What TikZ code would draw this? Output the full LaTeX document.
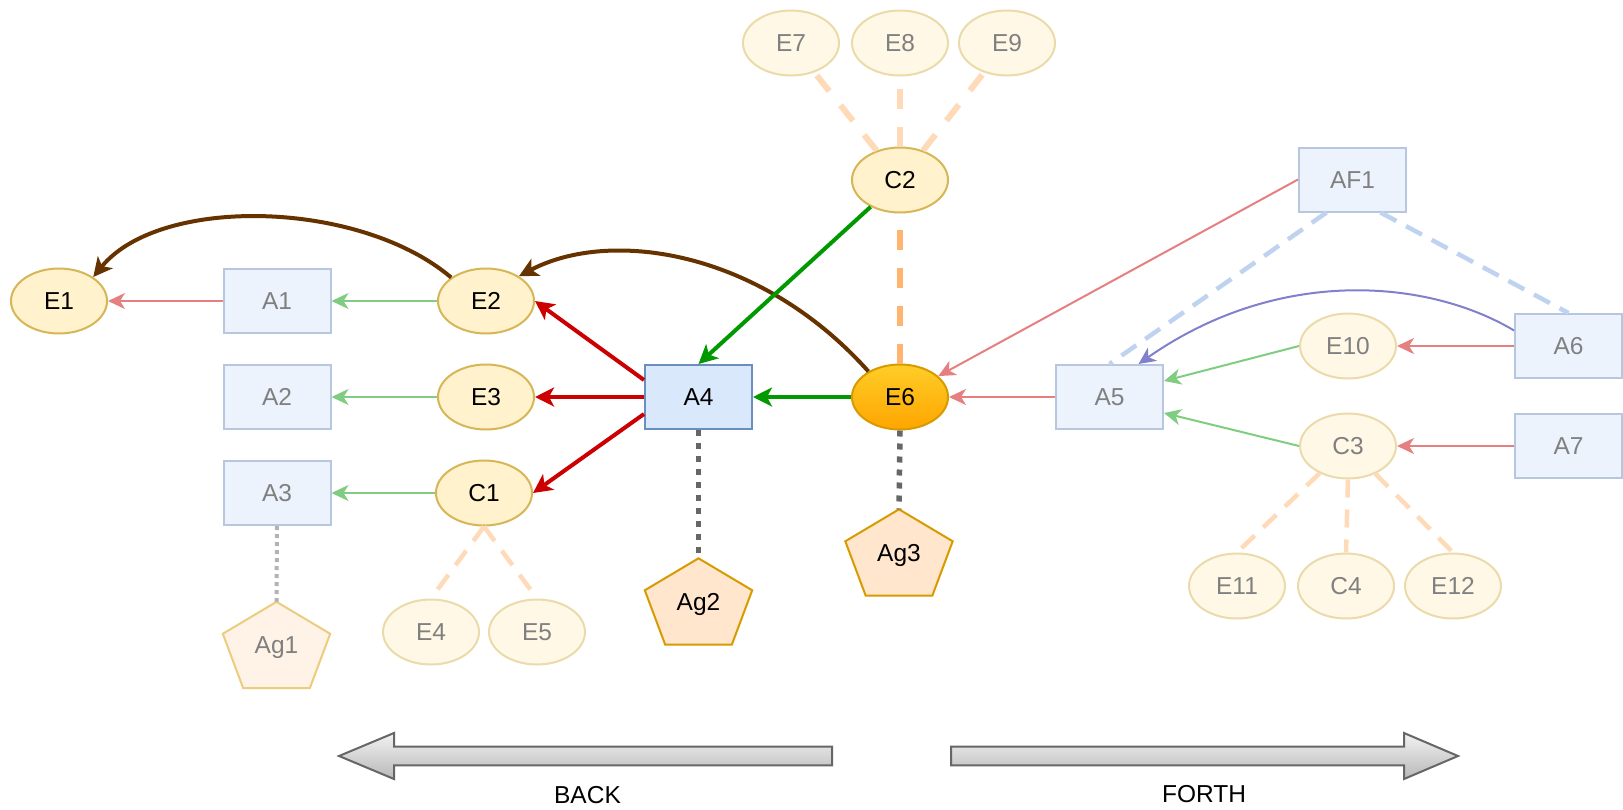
\documentclass[tikz,border=0pt]{standalone}
\usepackage{fontspec}
\setmainfont{Liberation Sans}
\usetikzlibrary{arrows.meta,calc,shapes.geometric}
\definecolor{ellF}{HTML}{FFF2CC}
\definecolor{ellS}{HTML}{D6B656}
\definecolor{ellFf}{HTML}{FFF8E6}
\definecolor{ellSf}{HTML}{EBDBAB}
\definecolor{boxF}{HTML}{DAE8FC}
\definecolor{boxS}{HTML}{6C8EBF}
\definecolor{boxFf}{HTML}{EDF3FD}
\definecolor{boxSf}{HTML}{B6C7DF}
\definecolor{txtf}{HTML}{808080}
\definecolor{agF}{HTML}{FFE6CC}
\definecolor{agS}{HTML}{D79B00}
\definecolor{agFf}{HTML}{FFF2E6}
\definecolor{agSf}{HTML}{EBCD80}
\definecolor{eT}{HTML}{FFCD28}
\definecolor{eB}{HTML}{FFA500}
\definecolor{redT}{HTML}{CC0000}
\definecolor{grnT}{HTML}{009900}
\definecolor{brn}{HTML}{663300}
\definecolor{redf}{HTML}{E68080}
\definecolor{grnf}{HTML}{80CC80}
\definecolor{bluf}{HTML}{8080CC}
\definecolor{orgD}{HTML}{FFB570}
\definecolor{orgDf}{HTML}{FFDAB8}
\definecolor{bluD}{HTML}{BFD3F0}
\definecolor{dotD}{HTML}{666666}
\definecolor{dotL}{HTML}{B3B3B3}
\definecolor{grT}{HTML}{F2F2F2}
\definecolor{grB}{HTML}{B8B8B8}
\newcommand\agentpent[4]{%
  \draw[#2] (#1.north) -- ($(#1.north east)!0.37!(#1.south east)$) -- ($(#1.south west)!0.81!(#1.south east)$) -- ($(#1.south west)!0.19!(#1.south east)$) -- ($(#1.north west)!0.37!(#1.south west)$) -- cycle;
  \node[#3] (#1-label) at (#1) {#4};}
\begin{document}
\begin{tikzpicture}[x=1pt,y=-1pt,
  every node/.style={font=\fontsize{24.5pt}{29pt}\selectfont, inner sep=0pt, text height=17.5pt, text depth=0pt},
  ell/.style={ellipse, draw=ellS, fill=ellF, line width=2pt, minimum width=96pt, minimum height=65pt},
  ellf/.style={ellipse, draw=ellSf, fill=ellFf, text=txtf, line width=2pt, minimum width=96pt, minimum height=65pt},
  hot/.style={ellipse, draw=agS, top color=eT, bottom color=eB, line width=2pt, minimum width=96pt, minimum height=65pt},
  box/.style={rectangle, draw=boxS, fill=boxF, line width=2pt, minimum width=107pt, minimum height=64pt},
  boxf/.style={rectangle, draw=boxSf, fill=boxFf, text=txtf, line width=2pt, minimum width=107pt, minimum height=64pt},
  pentbox/.style={rectangle, minimum width=107pt, minimum height=86pt},
  agfull/.style={draw=agS, fill=agF, line width=2pt, line join=miter},
  agfaded/.style={draw=agSf, fill=agFf, line width=2pt, line join=miter},
  tipthin/.style={-{Stealth[length=17pt,width=16pt,inset=5pt]}},
  tipthick/.style={-{Stealth[length=19pt,width=19pt,inset=5pt]}},
  thinred/.style={draw=redf, line width=2pt, tipthin},
  thingreen/.style={draw=grnf, line width=2pt, tipthin},
  thinblue/.style={draw=bluf, line width=2pt, tipthin},
  thickred/.style={draw=redT, line width=4pt, tipthick},
  thickgreen/.style={draw=grnT, line width=4pt, tipthick},
  brownline/.style={draw=brn, line width=4pt, tipthick},
  orangedash/.style={draw=orgD, line width=6pt, dash pattern=on 20pt off 18pt},
  orangedashf/.style={draw=orgDf, line width=6pt, dash pattern=on 20pt off 18pt},
  orangedashs/.style={draw=orgDf, line width=4.5pt, dash pattern=on 18pt off 12pt},
  bluedash/.style={draw=bluD, line width=4.5pt, dash pattern=on 18pt off 11pt},
  dotdark/.style={draw=dotD, line width=5.5pt, dash pattern=on 6pt off 7pt},
  dotlight/.style={draw=dotL, line width=4pt, dash pattern=on 4pt off 4pt},
  blockarrow/.style={draw=dotD, line width=2pt, top color=grT, bottom color=grB, line join=miter},
  ]
\fill[white] (0,0) rectangle (1623,809);
\useasboundingbox (0,0) rectangle (1623,809);

% nodes
\node[ell] (E1) at (59,301) {E1};
\node[boxf] (A1) at (277,301) {A1};
\node[ell] (E2) at (486,301) {E2};
\node[boxf] (A2) at (277,397) {A2};
\node[ell] (E3) at (486,397) {E3};
\node[boxf] (A3) at (277,493) {A3};
\node[ell] (C1) at (484,493) {C1};
\node[ellf] (E4) at (431,632) {E4};
\node[ellf] (E5) at (537,632) {E5};
\node[box] (A4) at (698.5,397) {A4};
\node[hot] (E6) at (900,397) {E6};
\node[ell] (C2) at (900,180) {C2};
\node[ellf] (E7) at (791,43) {E7};
\node[ellf] (E8) at (900,43) {E8};
\node[ellf] (E9) at (1007,43) {E9};
\node[boxf] (A5) at (1109.5,397) {A5};
\node[boxf] (AF1) at (1352.5,179.5) {AF1};
\node[boxf] (A6) at (1568.5,346) {A6};
\node[boxf] (A7) at (1568.5,446) {A7};
\node[ellf] (E10) at (1348,346) {E10};
\node[ellf] (C3) at (1348,446) {C3};
\node[ellf] (E11) at (1237,586) {E11};
\node[ellf] (C4) at (1346,586) {C4};
\node[ellf] (E12) at (1453,586) {E12};
\node[pentbox] (Ag1) at (276.5,645) {};
\node[pentbox] (Ag2) at (698.5,601.5) {};
\node[pentbox] (Ag3) at (899,552.5) {};
\agentpent{Ag1}{agfaded}{text=txtf}{Ag1}
\agentpent{Ag2}{agfull}{}{Ag2}
\agentpent{Ag3}{agfull}{}{Ag3}

% left side
\draw[thinred] (A1.west) -- (E1.east);
\draw[thingreen] (E2.west) -- (A1.east);
\draw[thingreen] (E3.west) -- (A2.east);
\draw[thingreen] (C1.west) -- (A3.east);
\draw[brownline] (E2.146) .. controls (360,200) and (160,195) .. (E1.35);
\draw[brownline] (E6.141) .. controls (760,250) and (610,228) .. (E2.37);
\draw[thickred] ([yshift=17pt]A4.west) -- (E2.east);
\draw[thickred] (A4.west) -- (E3.east);
\draw[thickred] ([yshift=-17pt]A4.west) -- (C1.east);
\draw[thickgreen] (E6.west) -- (A4.east);
\draw[thickgreen] (C2) -- (A4.north);
\draw[orangedash] (E6.north) -- (C2.south);
\draw[orangedashf] (C2) -- (E7);
\draw[orangedashf] (C2.north) -- (E8.south);
\draw[orangedashf] (C2) -- (E9);
\draw[orangedashs] (C1.south) -- (E4.north);
\draw[orangedashs] (C1.south) -- (E5.north);
\draw[dotlight] (A3.south) -- (Ag1.north);
\draw[dotdark] (A4.south) -- (Ag2.north);
\draw[dotdark] (E6.south) -- (Ag3.north);

% right side
\draw[thinred] (A5.west) -- (E6.east);
\draw[thinred] (AF1.west) -- (E6);
\draw[bluedash] ([xshift=-26pt]AF1.south) -- (A5.north);
\draw[bluedash] ([xshift=28pt]AF1.south) -- (A6.north);
\draw[thinblue] ([yshift=15.5pt]A6.west) .. controls (1430,280) and (1280,265) .. ([xshift=29pt]A5.north);
\draw[thinred] (A6.west) -- (E10.east);
\draw[thinred] (A7.west) -- (C3.east);
\draw[thingreen] (E10.west) -- ([yshift=16pt]A5.east);
\draw[thingreen] (C3.west) -- ([yshift=-16pt]A5.east);
\draw[orangedashs] (C3) -- (E11.north);
\draw[orangedashs] (C3.south) -- (C4.north);
\draw[orangedashs] (C3) -- (E12.north);

% back and forth
\draw[blockarrow] (832,746.7) -- (394,746.7) -- (394,733) -- (339,756) -- (394,779) -- (394,765.3) -- (832,765.3) -- cycle;
\draw[blockarrow] (951,746.7) -- (1404,746.7) -- (1404,733) -- (1458,756) -- (1404,779) -- (1404,765.3) -- (951,765.3) -- cycle;
\node (back) at (587.5,795) {BACK};
\node (forth) at (1204,794) {FORTH};
\end{tikzpicture}
\end{document}
